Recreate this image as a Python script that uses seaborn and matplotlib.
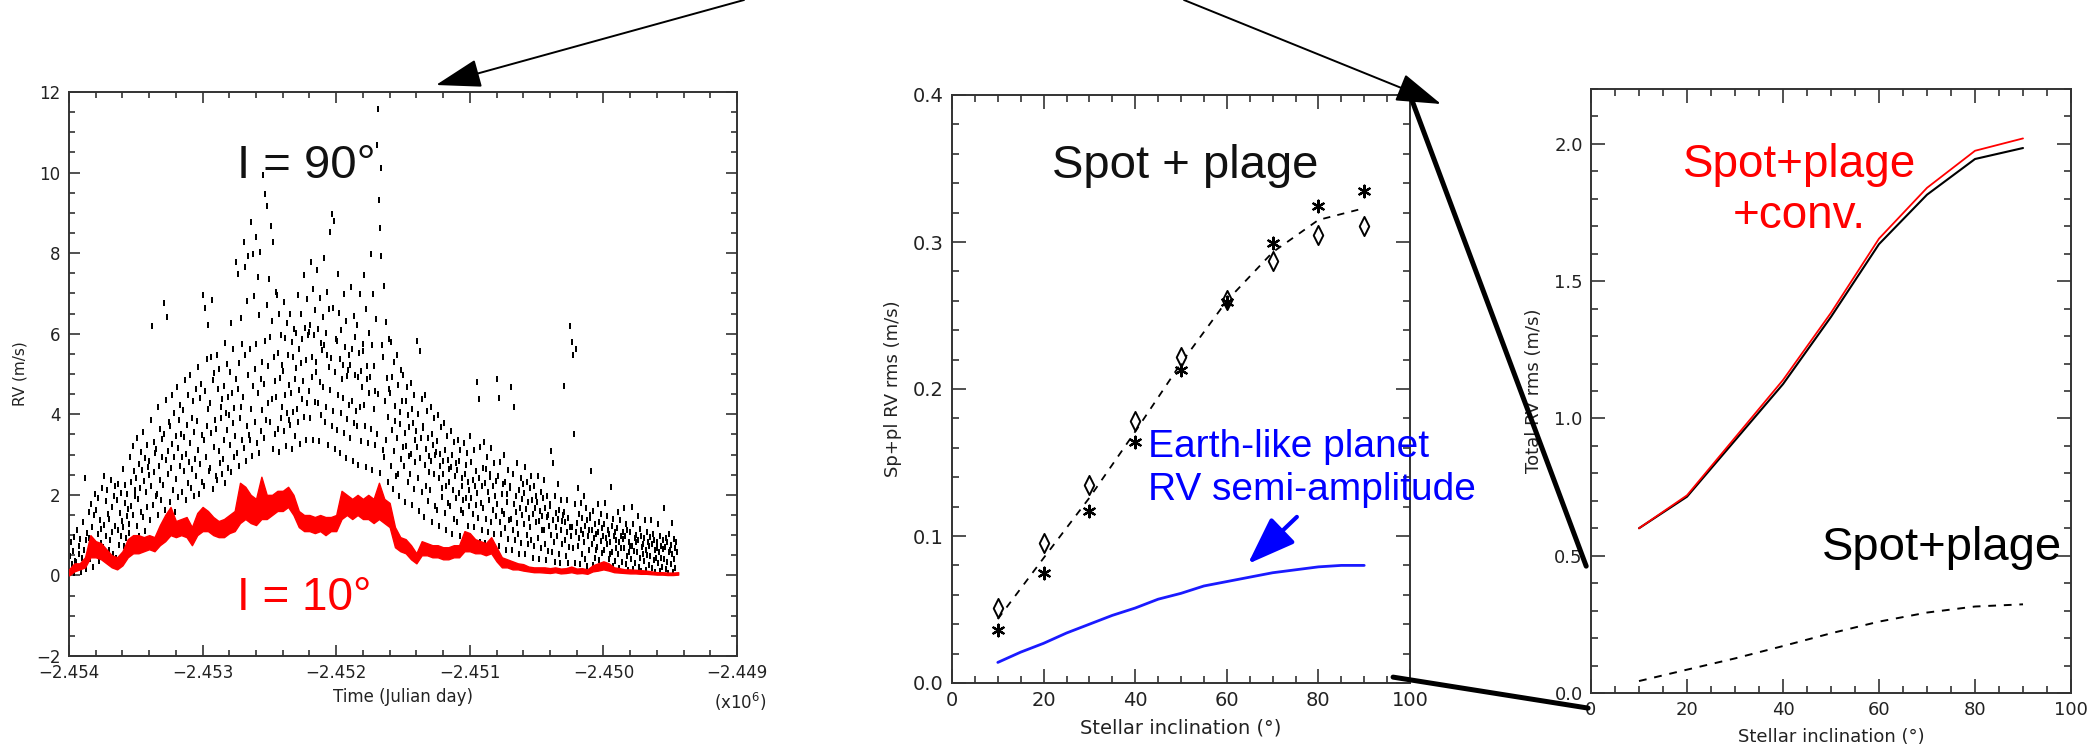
import numpy as np
import pandas as pd
import matplotlib
matplotlib.use("Agg")
import matplotlib.pyplot as plt
import seaborn as sns
from matplotlib.path import Path
from matplotlib.patches import ConnectionPatch, FancyArrowPatch
from matplotlib.ticker import MultipleLocator, FuncFormatter

# ---------------- data ----------------
# Panel 1: RV time series (days since JD offset -2.454e6); I = 90 deg samples, one list per 50-day bin
BIN_DAYS = 50
black_bins = [
    [0.12, 0.47, 0.83, 0.28, 0.61, 0.05, 0.95, 0.37],
    [0.33, 1.14, 0.18, 0.72, 0.52, 0.91, 0.08, 0.44],
    [0.26, 1.32, 0.64, 2.41, 0.87, 0.15, 1.05, 0.49, 1.58],
    [0.93, 0.41, 1.77, 0.66, 1.21, 0.22, 1.49, 0.78, 2.02],
    [1.63, 0.57, 1.04, 1.92, 0.35, 1.38, 0.81, 1.15, 2.18],
    [0.71, 2.47, 1.26, 0.46, 1.84, 0.98, 2.13, 1.53, 0.62],
    [1.41, 0.88, 2.36, 1.07, 1.69, 0.54, 1.96, 2.21, 1.23],
    [0.43, 1.87, 1.12, 2.28, 0.76, 1.55, 0.97, 2.05, 1.34],
    [2.63, 1.19, 0.72, 1.81, 2.24, 0.94, 1.47, 2.02, 1.66, 1.28],
    [1.05, 2.94, 1.73, 2.31, 0.86, 3.22, 1.51, 2.58, 1.97, 2.12],
    [2.43, 1.22, 3.41, 1.89, 2.76, 0.97, 2.18, 3.07, 1.58, 2.61],
    [1.46, 3.57, 2.34, 1.11, 2.92, 2.07, 3.23, 1.71, 2.68, 2.49],
    [2.83, 1.37, 3.86, 2.21, 6.18, 1.74, 3.32, 2.56, 3.04, 1.98],
    [3.14, 2.02, 4.17, 1.49, 2.71, 3.63, 2.38, 1.86, 3.39, 2.93],
    [2.24, 6.77, 3.51, 1.62, 4.36, 2.87, 6.42, 3.08, 2.53, 3.82],
    [3.71, 1.83, 2.66, 4.49, 3.27, 2.12, 4.03, 2.94, 1.57, 3.46],
    [2.39, 4.68, 3.16, 1.94, 3.87, 2.71, 4.22, 3.52, 2.08, 2.95],
    [4.11, 2.58, 3.43, 4.86, 1.86, 3.02, 3.74, 2.29, 4.47, 2.81],
    [3.28, 4.97, 2.17, 3.91, 2.64, 4.33, 1.98, 3.56, 2.89, 4.62],
    [2.46, 3.83, 5.18, 3.12, 2.03, 4.41, 2.77, 4.76, 3.49, 2.33],
    [6.97, 3.36, 2.21, 4.58, 6.63, 2.93, 5.37, 3.71, 6.21, 4.12, 2.58],
    [4.29, 2.67, 5.42, 3.53, 6.84, 2.14, 4.86, 3.18, 5.03, 3.87, 2.48],
    [3.64, 5.47, 2.36, 4.63, 3.09, 5.12, 2.79, 4.18, 3.91, 2.53, 4.37],
    [2.88, 4.71, 3.36, 5.78, 2.29, 4.04, 5.26, 3.62, 4.44, 2.66, 3.97],
    [5.04, 3.23, 6.27, 2.57, 4.52, 3.79, 5.61, 2.94, 4.16, 3.47, 4.88],
    [7.79, 3.04, 4.63, 7.48, 2.71, 5.27, 3.91, 6.38, 4.18, 3.37, 5.74],
    [4.43, 8.28, 3.17, 5.46, 7.66, 2.83, 6.82, 3.72, 4.97, 7.92, 3.48],
    [3.36, 5.62, 8.77, 4.14, 2.96, 7.98, 4.71, 6.94, 3.81, 5.13, 8.41],
    [5.74, 3.28, 7.42, 4.52, 6.47, 3.03, 8.02, 4.88, 3.59, 5.31, 4.11],
    [9.93, 4.74, 3.42, 9.48, 5.83, 3.87, 9.17, 6.71, 4.29, 5.19, 7.35],
    [5.93, 3.81, 8.68, 4.38, 6.32, 3.14, 8.27, 5.41, 4.83, 3.52, 7.04],
    [4.44, 6.96, 3.63, 5.52, 3.07, 6.48, 4.91, 5.98, 3.92, 4.18, 5.23],
    [5.07, 3.58, 6.78, 4.47, 5.89, 3.21, 6.27, 4.02, 5.46, 3.86, 4.73],
    [3.74, 6.48, 4.53, 5.79, 3.13, 5.41, 4.06, 6.12, 4.88, 3.46, 5.16],
    [6.03, 4.14, 6.97, 3.82, 5.63, 4.61, 3.27, 6.49, 5.28, 4.37, 5.87],
    [4.82, 7.46, 3.94, 6.14, 5.34, 3.37, 6.87, 4.28, 5.97, 6.04, 4.59],
    [6.22, 3.91, 7.77, 4.93, 5.42, 3.36, 7.12, 5.96, 4.31, 6.58, 5.04],
    [5.31, 7.58, 4.27, 6.11, 3.33, 6.89, 4.81, 5.78, 3.97, 5.59, 6.42],
    [4.68, 5.73, 7.88, 3.82, 6.02, 4.17, 7.04, 5.48, 3.24, 6.61, 5.17],
    [8.52, 4.61, 5.39, 8.97, 3.71, 6.63, 4.08, 8.81, 5.06, 3.13, 5.88],
    [5.81, 3.62, 7.47, 4.48, 6.51, 3.04, 5.37, 4.02, 6.08, 4.87, 5.22],
    [4.41, 6.98, 3.53, 5.68, 2.92, 6.31, 4.94, 3.88, 5.11, 4.23, 5.47],
    [5.23, 3.41, 7.17, 4.33, 5.61, 2.84, 6.43, 3.79, 4.97, 5.92, 4.08],
    [3.72, 6.21, 4.92, 2.74, 5.51, 4.19, 6.98, 3.33, 5.08, 4.67, 5.74],
    [5.56, 4.24, 7.46, 3.71, 6.62, 2.69, 4.87, 5.21, 3.28, 6.03, 4.52],
    [4.93, 7.97, 3.63, 5.72, 2.61, 6.98, 4.13, 5.19, 3.24, 4.58, 6.36],
    [10.69, 3.52, 11.58, 4.51, 9.31, 8.62, 2.54, 7.93, 10.12, 5.71, 3.11],
    [5.43, 7.18, 2.94, 4.34, 6.29, 3.36, 4.91, 2.31, 3.93, 5.87, 4.62],
    [4.52, 2.72, 5.79, 3.61, 4.93, 2.14, 5.31, 3.09, 4.21, 3.84, 2.47],
    [3.42, 5.48, 2.53, 4.73, 1.98, 4.06, 3.77, 5.11, 2.89, 4.32, 3.18],
    [4.97, 2.71, 3.53, 1.82, 4.32, 3.21, 4.68, 2.33, 3.97, 2.96, 3.68],
    [2.51, 4.78, 3.02, 1.74, 4.13, 3.79, 2.14, 4.47, 3.37, 2.82, 3.58],
    [5.81, 3.19, 2.43, 4.01, 1.61, 5.58, 2.91, 3.42, 4.38, 2.07, 3.66],
    [3.71, 1.46, 4.49, 2.74, 3.13, 2.22, 4.08, 1.84, 3.42, 2.97, 2.56],
    [2.11, 4.18, 2.83, 3.52, 1.32, 3.24, 2.51, 3.91, 1.73, 2.98, 3.07],
    [3.33, 1.62, 3.97, 2.43, 1.23, 3.02, 2.71, 3.69, 1.94, 2.17, 2.84],
    [2.53, 3.78, 1.54, 3.11, 2.21, 1.12, 3.47, 2.87, 1.81, 2.64, 2.32],
    [1.72, 3.58, 2.68, 1.03, 2.98, 2.13, 3.31, 1.41, 2.47, 2.79, 1.93],
    [2.62, 1.32, 3.37, 2.04, 2.84, 0.98, 3.12, 1.63, 2.41, 2.22, 1.87],
    [1.54, 3.28, 2.51, 0.92, 2.73, 1.93, 3.04, 1.22, 2.33, 2.12, 1.72],
    [3.47, 1.93, 2.82, 0.91, 2.38, 1.52, 3.11, 1.21, 2.21, 1.74, 2.58],
    [2.04, 4.79, 1.43, 2.41, 4.38, 0.83, 3.18, 1.81, 2.23, 1.12, 2.66],
    [1.68, 3.31, 2.29, 0.81, 2.63, 1.41, 2.93, 1.07, 2.07, 1.86, 2.44],
    [2.52, 1.32, 3.17, 0.74, 2.21, 1.63, 2.79, 1.03, 1.97, 2.35, 1.48],
    [4.87, 1.78, 2.48, 0.72, 4.41, 1.33, 2.82, 1.02, 2.01, 1.59, 2.27],
    [1.53, 2.98, 1.17, 2.31, 0.62, 2.03, 1.83, 2.61, 0.91, 1.38, 2.17],
    [2.22, 4.68, 1.41, 0.63, 2.53, 1.12, 4.19, 1.77, 0.88, 1.98, 1.58],
    [1.31, 2.79, 1.03, 2.13, 0.52, 1.68, 2.42, 0.81, 1.89, 1.49, 2.27],
    [2.04, 1.27, 2.68, 0.53, 1.64, 1.01, 2.33, 0.79, 1.83, 1.42, 2.18],
    [1.21, 2.48, 0.87, 1.87, 0.44, 1.52, 2.21, 0.72, 1.68, 1.33, 1.96],
    [1.83, 0.92, 2.47, 1.34, 0.42, 1.61, 2.08, 0.68, 1.47, 1.12, 1.91],
    [1.13, 2.38, 0.79, 1.68, 0.38, 1.44, 1.97, 0.61, 1.51, 1.23, 1.78],
    [1.72, 3.08, 1.01, 0.59, 1.38, 2.79, 0.83, 1.97, 0.33, 1.19, 1.56],
    [0.98, 2.27, 1.41, 0.52, 1.62, 0.31, 1.88, 1.13, 0.77, 1.34, 1.51],
    [1.58, 4.69, 0.87, 1.33, 0.49, 1.87, 1.09, 0.32, 1.43, 0.71, 1.21],
    [6.19, 0.97, 5.79, 1.21, 5.48, 0.68, 3.52, 1.77, 0.31, 5.63, 1.09],
    [1.31, 0.73, 2.17, 0.94, 1.52, 0.28, 1.79, 1.13, 0.52, 1.43, 1.02],
    [0.83, 1.97, 1.22, 0.41, 1.68, 0.23, 1.38, 0.98, 0.62, 1.12, 1.49],
    [1.42, 2.58, 0.79, 1.14, 0.27, 1.61, 0.93, 0.44, 1.27, 1.04, 0.63],
    [0.71, 1.78, 1.07, 0.38, 1.33, 0.21, 1.52, 0.86, 0.56, 1.18, 0.97],
    [1.28, 0.64, 1.79, 0.93, 0.22, 1.47, 0.77, 1.12, 0.41, 1.03, 0.53],
    [0.82, 2.19, 0.57, 1.22, 0.24, 1.41, 0.97, 0.36, 1.08, 0.68, 0.88],
    [1.18, 0.52, 1.58, 0.83, 0.19, 1.37, 0.68, 0.99, 0.34, 0.91, 1.07],
    [0.67, 1.68, 0.97, 0.28, 1.27, 0.47, 1.12, 0.14, 0.83, 0.58, 0.74],
    [1.09, 0.42, 1.69, 0.73, 0.17, 1.28, 0.61, 0.92, 0.31, 0.84, 1.01],
    [0.58, 1.47, 0.87, 0.22, 1.16, 0.43, 0.98, 0.12, 0.71, 0.52, 0.79],
    [0.93, 0.37, 1.38, 0.63, 0.14, 1.08, 0.51, 0.82, 0.27, 0.74, 0.96],
    [0.48, 1.37, 0.77, 0.19, 1.03, 0.38, 0.88, 0.08, 0.62, 0.44, 0.69],
    [0.84, 0.31, 1.27, 0.57, 0.12, 0.97, 0.44, 0.72, 0.21, 0.66, 0.89],
    [0.42, 1.68, 0.71, 0.16, 0.93, 0.33, 0.82, 0.07, 0.58, 1.04, 0.63],
    [0.76, 0.28, 1.29, 0.52, 0.09, 0.91, 0.41, 0.67, 0.18, 0.83, 0.58],
]

# I = 10 deg: band of the red curve, sampled every 40 days
RED_STEP = 40
red_lo = [0.0, 0.1, 0.15, 0.2, 0.45, 0.45, 0.4, 0.3, 0.2, 0.15,
          0.25, 0.45, 0.55, 0.55, 0.6, 0.65, 0.6, 0.75, 0.85, 1.0,
          0.95, 1.0, 0.95, 0.75, 1.0, 1.1, 1.1, 1.0, 0.95, 0.95,
          1.05, 1.1, 1.3, 1.4, 1.3, 1.25, 1.4, 1.4, 1.5, 1.6,
          1.6, 1.7, 1.5, 1.2, 1.1, 1.1, 1.05, 1.1, 1.0, 1.1,
          1.1, 1.4, 1.5, 1.4, 1.5, 1.4, 1.4, 1.3, 1.4, 1.3,
          1.2, 0.7, 0.6, 0.55, 0.4, 0.3, 0.5, 0.5, 0.45, 0.45,
          0.4, 0.4, 0.45, 0.45, 0.6, 0.6, 0.55, 0.55, 0.5, 0.55,
          0.35, 0.2, 0.2, 0.15, 0.15, 0.12, 0.1, 0.08, 0.08, 0.07,
          0.06, 0.08, 0.05, 0.06, 0.08, 0.05, 0.06, 0.04, 0.1, 0.12,
          0.15, 0.12, 0.08, 0.07, 0.06, 0.05, 0.05, 0.04, 0.04, 0.03,
          0.02, 0.02, 0.01, 0.01, 0.02]
red_hi = [0.15, 0.3, 0.3, 0.45, 1.0, 0.85, 0.8, 0.65, 0.5, 0.45,
          0.6, 0.9, 1.0, 1.0, 0.95, 1.0, 0.95, 1.25, 1.5, 1.7,
          1.35, 1.4, 1.45, 1.2, 1.55, 1.7, 1.6, 1.45, 1.35, 1.4,
          1.5, 1.6, 2.3, 2.2, 2.0, 1.9, 2.45, 2.0, 2.0, 2.1,
          2.1, 2.2, 2.0, 1.6, 1.5, 1.5, 1.45, 1.5, 1.45, 1.45,
          1.5, 2.1, 2.0, 1.9, 2.0, 1.9, 2.0, 1.9, 2.3, 1.9,
          1.8, 1.2, 0.95, 0.9, 0.75, 0.55, 0.85, 0.8, 0.75, 0.75,
          0.7, 0.7, 0.75, 0.75, 1.1, 1.05, 0.9, 0.85, 0.8, 0.95,
          0.7, 0.45, 0.4, 0.35, 0.3, 0.28, 0.22, 0.2, 0.2, 0.2,
          0.18, 0.2, 0.17, 0.18, 0.22, 0.17, 0.18, 0.15, 0.25, 0.3,
          0.35, 0.3, 0.2, 0.18, 0.15, 0.15, 0.14, 0.13, 0.12, 0.1,
          0.08, 0.08, 0.07, 0.07, 0.08]

# Panel 2: spot+plage RV rms vs stellar inclination
incl = [10, 20, 30, 40, 50, 60, 70, 80, 90]
sp_diamond = [0.051, 0.095, 0.135, 0.178, 0.222, 0.2605, 0.287, 0.305, 0.311]
sp_star = [0.036, 0.075, 0.117, 0.164, 0.213, 0.259, 0.299, 0.3245, 0.335]
sp_mean = [0.0435, 0.085, 0.126, 0.171, 0.2175, 0.260, 0.293, 0.315, 0.323]
planet_incl = [10, 15, 20, 25, 30, 35, 40, 45, 50, 55, 60, 65, 70, 75, 80, 85, 90]
planet_K = [0.014, 0.021, 0.027, 0.034, 0.040, 0.046, 0.051, 0.057, 0.061,
            0.066, 0.069, 0.072, 0.075, 0.077, 0.079, 0.080, 0.080]

# Panel 3: total RV rms vs stellar inclination
total_black = [0.60, 0.715, 0.92, 1.125, 1.37, 1.635, 1.815, 1.945, 1.985]
total_red = [0.60, 0.72, 0.93, 1.14, 1.385, 1.655, 1.84, 1.975, 2.02]

# ---------------- style ----------------
sns.set_theme(style="ticks")
plt.rcParams["font.family"] = ["DejaVu Sans"]
AX_COL = "#333333"
ANN_FONT = ["Liberation Sans", "DejaVu Sans"]

W, H = 2093, 756
fig = plt.figure(figsize=(W / 100, H / 100), dpi=100)
fig.patch.set_facecolor("white")

ax1 = fig.add_axes([69 / W, 1 - 656 / H, 668 / W, 564 / H])
ax2 = fig.add_axes([952 / W, 1 - 683 / H, 458 / W, 588 / H])
ax3 = fig.add_axes([1591 / W, 1 - 693 / H, 480 / W, 604 / H])


def style_axes(ax, fs, major_len=8, minor_len=4):
    for s in ax.spines.values():
        s.set_color(AX_COL)
        s.set_linewidth(1.4)
    ax.tick_params(which="both", direction="in", top=True, right=True,
                   color=AX_COL, width=1.2, labelsize=fs, labelcolor="#222222")
    ax.tick_params(which="major", length=major_len, pad=6)
    ax.tick_params(which="minor", length=minor_len)
    ax.grid(False)


# ---------------- panel 1 ----------------
bt, bv = [], []
for i, vals in enumerate(black_bins):
    n = len(vals)
    for j, v in enumerate(vals):
        bt.append(i * BIN_DAYS + (j + 0.5) * BIN_DAYS / n)
        bv.append(v)
df_black = pd.DataFrame({"x": -2.454 + np.array(bt) * 1e-6, "rv": bv})
dash = Path([(-0.3, -1), (0.3, -1), (0.3, 1), (-0.3, 1), (-0.3, -1)],
            [Path.MOVETO, Path.LINETO, Path.LINETO, Path.LINETO, Path.CLOSEPOLY])
sns.scatterplot(data=df_black, x="x", y="rv", ax=ax1, marker=dash, s=17,
                color="black", linewidth=0, legend=False, zorder=2)

red_t = -2.454 + np.arange(len(red_lo)) * RED_STEP * 1e-6
ax1.fill_between(red_t, red_lo, red_hi, color="red", lw=1.0, zorder=3)

ax1.set_xlim(-2.454, -2.449)
ax1.set_ylim(-2, 12)
ax1.xaxis.set_major_locator(MultipleLocator(0.001))
ax1.xaxis.set_minor_locator(MultipleLocator(0.0002))
ax1.yaxis.set_major_locator(MultipleLocator(2))
ax1.yaxis.set_minor_locator(MultipleLocator(0.5))
ax1.xaxis.set_major_formatter(FuncFormatter(lambda v, p: f"{v:.3f}".replace("-", "\u2212")))
ax1.yaxis.set_major_formatter(FuncFormatter(lambda v, p: f"{v:.0f}".replace("-", "\u2212")))
style_axes(ax1, 12)
ax1.set_xlabel("Time (Julian day)", fontsize=12, color="#222222", labelpad=4)
ax1.set_ylabel("RV (m/s)", fontsize=11, color="#222222", labelpad=6)
ax1.text(1.005, -0.062, r"(x10$^{6}$)", transform=ax1.transAxes, fontsize=12,
         color="#222222", ha="center", va="top")
ax1.text(0.251, 0.848, "I = 90°", transform=ax1.transAxes, fontsize=34,
         family=ANN_FONT, color="#111111", ha="left", va="baseline")
ax1.text(0.251, 0.082, "I = 10°", transform=ax1.transAxes, fontsize=33,
         family=ANN_FONT, color="red", ha="left", va="baseline")

# ---------------- panel 2 ----------------
df2 = pd.DataFrame({"incl": incl, "diamond": sp_diamond, "star": sp_star, "mean": sp_mean})
sns.lineplot(data=df2, x="incl", y="mean", ax=ax2, color="black", lw=1.3,
             linestyle=(0, (4, 4)), legend=False)
diamond = Path([(0, 1), (0.5, 0), (0, -1), (-0.5, 0), (0, 1)],
               [Path.MOVETO, Path.LINETO, Path.LINETO, Path.LINETO, Path.CLOSEPOLY])
sns.scatterplot(data=df2, x="incl", y="diamond", ax=ax2, marker=diamond, s=190,
                facecolor="white", edgecolor="black", linewidth=1.4, legend=False, zorder=3)
sns.scatterplot(data=df2, x="incl", y="star", ax=ax2, marker=(6, 2, 0), s=70,
                color="black", linewidth=1.6, legend=False, zorder=3)
df_pl = pd.DataFrame({"incl": planet_incl, "K": planet_K})
sns.lineplot(data=df_pl, x="incl", y="K", ax=ax2, color="#1a1aff", lw=2, legend=False)

ax2.set_xlim(0, 100)
ax2.set_ylim(0, 0.4)
ax2.xaxis.set_major_locator(MultipleLocator(20))
ax2.xaxis.set_minor_locator(MultipleLocator(5))
ax2.yaxis.set_major_locator(MultipleLocator(0.1))
ax2.yaxis.set_minor_locator(MultipleLocator(0.02))
ax2.yaxis.set_major_formatter(FuncFormatter(lambda v, p: f"{v:.1f}"))
style_axes(ax2, 14, major_len=10, minor_len=5)
ax2.set_xlabel("Stellar inclination (°)", fontsize=14, color="#222222", labelpad=6)
ax2.set_ylabel("Sp+pl RV rms (m/s)", fontsize=13, color="#222222", labelpad=8)
ax2.text(0.218, 0.859, "Spot + plage", transform=ax2.transAxes, fontsize=34,
         family=ANN_FONT, color="#111111", ha="left", va="baseline")
ax2.text(0.428, 0.384, "Earth-like planet", transform=ax2.transAxes, fontsize=28,
         family=ANN_FONT, color="blue", ha="left", va="baseline")
ax2.text(0.428, 0.311, "RV semi-amplitude", transform=ax2.transAxes, fontsize=28,
         family=ANN_FONT, color="blue", ha="left", va="baseline")
ax2.annotate("", xy=(64.6, 0.081), xytext=(75.3, 0.113), xycoords="data",
             arrowprops=dict(arrowstyle="-|>,head_length=0.74,head_width=0.27",
                             mutation_scale=40, lw=3, color="blue",
                             shrinkA=0, shrinkB=0))

# ---------------- panel 3 ----------------
df3 = pd.DataFrame({"incl": incl, "black": total_black, "red": total_red, "sp": sp_mean})
sns.lineplot(data=df3, x="incl", y="black", ax=ax3, color="black", lw=1.5, legend=False)
sns.lineplot(data=df3, x="incl", y="red", ax=ax3, color="red", lw=1.3, legend=False)
sns.lineplot(data=df3, x="incl", y="sp", ax=ax3, color="black", lw=1.4,
             linestyle=(0, (4, 4)), legend=False)
ax3.set_xlim(0, 100)
ax3.set_ylim(0, 2.2)
ax3.xaxis.set_major_locator(MultipleLocator(20))
ax3.xaxis.set_minor_locator(MultipleLocator(5))
ax3.yaxis.set_major_locator(MultipleLocator(0.5))
ax3.yaxis.set_minor_locator(MultipleLocator(0.1))
ax3.yaxis.set_major_formatter(FuncFormatter(lambda v, p: f"{v:.1f}"))
style_axes(ax3, 13, major_len=10, minor_len=5)
ax3.set_xlabel("Stellar inclination (°)", fontsize=13, color="#222222", labelpad=6)
ax3.set_ylabel("Total RV rms (m/s)", fontsize=13, color="#222222", labelpad=8)
ax3.text(0.435, 0.854, "Spot+plage", transform=ax3.transAxes, fontsize=33,
         family=ANN_FONT, color="red", ha="center", va="baseline")
ax3.text(0.435, 0.770, "+conv.", transform=ax3.transAxes, fontsize=33,
         family=ANN_FONT, color="red", ha="center", va="baseline")
ax3.text(0.48, 0.22, "Spot+plage", transform=ax3.transAxes, fontsize=34,
         family=ANN_FONT, color="black", ha="left", va="baseline", zorder=5)

# ---------------- connectors / arrows ----------------
for (a, b) in [((1.0, 1.0), (-0.010, 0.210)), ((0.963, 0.010), (-0.006, -0.025))]:
    con = ConnectionPatch(xyA=a, coordsA=ax2.transAxes, xyB=b, coordsB=ax3.transAxes,
                          color="black", lw=3.6, zorder=10)
    fig.add_artist(con)

for start, tip in [((744, H), (436, H - 85)), ((1184, H), (1441, H - 104))]:
    fig.add_artist(FancyArrowPatch(
        posA=start, posB=tip, transform=None,
        arrowstyle="-|>,head_length=0.95,head_width=0.3", mutation_scale=30,
        lw=1.4, color="black", shrinkA=0, shrinkB=0, zorder=10))

fig.savefig("out.png", dpi=100, facecolor="white")
